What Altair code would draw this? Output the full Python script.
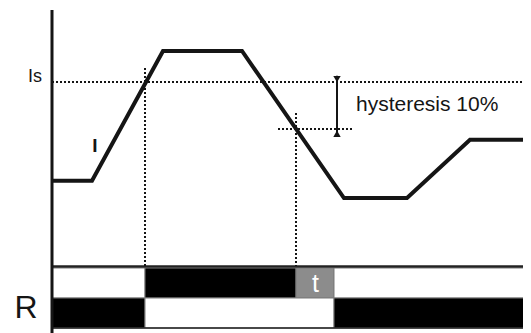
import altair as alt
import pandas as pd

# ---- data -------------------------------------------------------------
# current trace I, in % of the pick-up setting Is, over time (arbitrary units)
curve_t = [0.0, 4.0, 11.1, 19.0, 29.2, 35.5, 41.8, 47.5]
curve_i = [79.0, 79.0, 106.6, 106.6, 75.3, 75.3, 87.7, 87.7]

is_level = 100.0          # Is
hyst_level = 90.0         # Is - 10 % hysteresis
t_pickup = 9.3            # I crosses Is (rising)
t_drop = 24.4             # I falls below 90 %
t_release = 28.2          # end of delay t
t_end = 48.0

# relay state rows (row 1 = upper, row 0 = lower)
row_start = [0.0, t_pickup, t_drop, t_release, 0.0, t_pickup, t_release, 47.5]
row_end = [t_pickup, t_drop, t_release, t_end, t_pickup, t_release, 47.5, t_end]
row_id = [1, 1, 1, 1, 0, 0, 0, 0]
row_fill = ["#ffffff", "#000000", "#8c8c8c", "#ffffff",
            "#000000", "#ffffff", "#000000", "#ffffff"]

# ---- scales -----------------------------------------------------------
W, H = 515, 325
xs = alt.Scale(domain=[-4.4, -4.4 + W / 10.0], nice=False, zero=False)
ys = alt.Scale(domain=[115.74 - H / 4.7, 115.74], nice=False, zero=False)
rs = alt.Scale(domain=[10.6667 - H / 30.0, 10.6667], nice=False, zero=False)


def X(f):
    return alt.X(f, type="quantitative", scale=xs, axis=None)


def X2(f):
    return alt.X2(f)


def Y(f):
    return alt.Y(f, type="quantitative", scale=ys, axis=None)


def R(f):
    return alt.Y(f, type="quantitative", scale=rs, axis=None)


curve = pd.DataFrame({"t": curve_t, "i": curve_i, "k": range(len(curve_t))})
rows = pd.DataFrame({"t0": row_start, "t1": row_end,
                     "r0": [r for r in row_id], "r1": [r + 1 for r in row_id],
                     "fill": row_fill})

ink = "#151515"

line = alt.Chart(curve).mark_line(color=ink, strokeWidth=4, strokeJoin="miter",
                                  strokeCap="butt").encode(
    x=X("t"), y=Y("i"), order="k:Q")

dots_h = pd.DataFrame({"t0": [0.0, 22.6], "t1": [47.9, 30.1],
                       "i": [is_level, hyst_level]})
dotted_h = alt.Chart(dots_h).mark_rule(color=ink, strokeWidth=2,
                                       strokeDash=[2, 2]).encode(
    x=X("t0"), x2=X2("t1"), y=Y("i"))

dots_v = pd.DataFrame({"t": [t_pickup, t_drop], "i0": [103.0, 93.4],
                       "i1": [60.85, 60.85]})
dotted_v = alt.Chart(dots_v).mark_rule(color=ink, strokeWidth=2,
                                       strokeDash=[2, 2]).encode(
    x=X("t"), y=Y("i0"), y2=alt.Y2("i1"))

axis_df = pd.DataFrame({"t": [0.0], "i0": [115.3], "i1": [44.0]})
axis_line = alt.Chart(axis_df).mark_rule(color=ink, strokeWidth=3).encode(
    x=X("t"), y=Y("i0"), y2=alt.Y2("i1"))

hb = pd.DataFrame({"t": [28.5], "i0": [101.3], "i1": [88.3]})
hbar = alt.Chart(hb).mark_rule(color=ink, strokeWidth=2).encode(
    x=X("t"), y=Y("i0"), y2=alt.Y2("i1"))

tri_df = pd.DataFrame({"t": [28.5, 28.5], "i": [100.6, 89.0],
                       "shape": ["triangle-down", "triangle-up"]})
tris = alt.Chart(tri_df).mark_point(filled=True, color=ink, size=55,
                                    opacity=1).encode(
    x=X("t"), y=Y("i"),
    shape=alt.Shape("shape:N", scale=None, legend=None))

boxes = alt.Chart(rows).mark_rect(stroke="#7a7a7a", strokeWidth=1).encode(
    x=X("t0"), x2=X2("t1"), y=R("r0"), y2=alt.Y2("r1"),
    fill=alt.Fill("fill:N", scale=None, legend=None))

sep_df = pd.DataFrame({"t0": [0.0, 0.0], "t1": [47.9, 47.9],
                       "r": [2.05, 0.0], "w": [2.5, 1.5]})
seps = alt.Chart(sep_df).mark_rule(color="#222222").encode(
    x=X("t0"), x2=X2("t1"), y=R("r"),
    strokeWidth=alt.StrokeWidth("w:Q", scale=None, legend=None))

font = "Liberation Sans"
txt_is = alt.Chart(pd.DataFrame({"t": [-2.4], "i": [100.1], "s": ["Is"]})).mark_text(
    align="left", baseline="alphabetic", fontSize=18, font=font, color=ink).encode(
    x=X("t"), y=Y("i"), text="s:N")
txt_i = alt.Chart(pd.DataFrame({"t": [4.3], "i": [85.1], "s": ["I"]})).mark_text(
    align="center", baseline="alphabetic", fontSize=19, fontWeight="bold",
    font=font, color=ink).encode(x=X("t"), y=Y("i"), text="s:N")
txt_h = alt.Chart(pd.DataFrame({"t": [30.4], "i": [93.83],
                                "s": ["hysteresis 10%"]})).mark_text(
    align="left", baseline="alphabetic", fontSize=21, font=font, color=ink).encode(
    x=X("t"), y=Y("i"), text="s:N")
txt_r = alt.Chart(pd.DataFrame({"t": [-2.6], "r": [0.333], "s": ["R"]})).mark_text(
    align="center", baseline="alphabetic", fontSize=32, font=font, color=ink).encode(
    x=X("t"), y=R("r"), text="s:N")
txt_t = alt.Chart(pd.DataFrame({"t": [26.35], "r": [1.2], "s": ["t"]})).mark_text(
    align="center", baseline="alphabetic", fontSize=25, font=font,
    color="#ffffff").encode(x=X("t"), y=R("r"), text="s:N")

current_part = alt.layer(dotted_h, dotted_v, axis_line, line, hbar, tris,
                         txt_is, txt_i, txt_h)
relay_part = alt.layer(boxes, seps, txt_r, txt_t)

chart = alt.layer(relay_part, current_part).resolve_scale(y="independent").properties(
    width=W, height=H, padding=0, autosize=alt.AutoSizeParams(type="none"),
    background="#ffffff"
).configure_view(stroke=None)

chart.save("out.html", embed_options={"renderer": "svg", "actions": False})
